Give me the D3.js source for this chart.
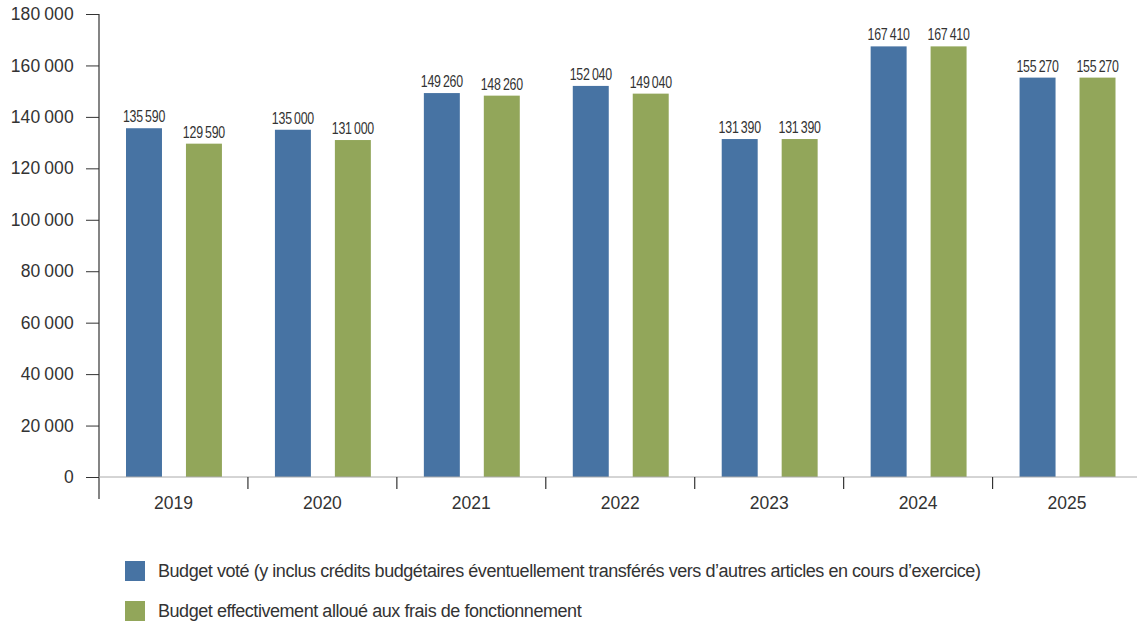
<!DOCTYPE html>
<html><head><meta charset="utf-8">
<script src="https://cdn.jsdelivr.net/npm/d3@7"></script>
<style>
body{margin:0;background:#fff;}
svg{display:block;}
</style></head>
<body>
<svg id="chart" width="1137" height="622"></svg>
<script>
const years = ["2019","2020","2021","2022","2023","2024","2025"];
const budgetVote = [135590,135000,149260,152040,131390,167410,155270];
const budgetAlloue = [129590,131000,148260,149040,131390,167410,155270];
const yTicks = [0,20000,40000,60000,80000,100000,120000,140000,160000,180000];
const seriesNames = ["Budget voté (y inclus crédits budgétaires éventuellement transférés vers d’autres articles en cours d’exercice)","Budget effectivement alloué aux frais de fonctionnement"];
const colors = ["#4773a3","#92a65a"];

const svg = d3.select("#chart");
const x0 = 99, x1 = 1141.5, yTop = 14, yBot = 477;
const fmt = v => d3.format(",")(v).replace(/,/g, "\u2009");

const x = d3.scaleBand().domain(years).range([x0, x1]).paddingInner(0).paddingOuter(0);
const y = d3.scaleLinear().domain([0,180000]).range([yBot, yTop]);
const inner = d3.scaleBand().domain([0,1]).range([27, x.bandwidth()-26]).paddingInner(0.4);

// y axis
const yAxis = svg.append("g").attr("transform",`translate(${x0},0)`)
  .call(d3.axisLeft(y).tickValues(yTicks).tickFormat(fmt).tickSize(13).tickPadding(12));
yAxis.select(".domain").remove();
yAxis.selectAll(".tick line").attr("stroke","#333");
yAxis.selectAll(".tick text").attr("fill","#333").style("font-family","Liberation Sans, Arial, sans-serif").style("font-size","17.5px").style("letter-spacing","0.2px");
svg.append("line").attr("x1",x0).attr("x2",x0).attr("y1",yTop).attr("y2",499).attr("stroke","#333").attr("stroke-width",1.2);

// bars
const data = [budgetVote, budgetAlloue];
data.forEach((vals, si) => {
  svg.append("g").selectAll("rect").data(years).join("rect")
    .attr("x", (d,i) => x(d) + inner(si))
    .attr("width", inner.bandwidth())
    .attr("y", (d,i) => y(vals[i]))
    .attr("height", (d,i) => yBot - y(vals[i]))
    .attr("fill", colors[si]);
  svg.append("g").selectAll("text").data(years).join("text")
    .attr("transform", (d,i) => `translate(${x(d) + inner(si) + inner.bandwidth()/2},${y(vals[i]) - 6}) scale(0.75,1)`)
    .attr("text-anchor","middle")
    .attr("fill","#333")
    .style("font-family","Liberation Sans, Arial, sans-serif")
    .style("font-size","16.5px")
    .style("letter-spacing","-0.3px")
    .text((d,i) => fmt(vals[i]));
});

// x axis baseline
svg.append("line").attr("x1",x0).attr("x2",1137).attr("y1",yBot).attr("y2",yBot).attr("stroke","#aaa").attr("stroke-width",1);
const xAxis = svg.append("g").attr("transform",`translate(0,${yBot})`)
  .call(d3.axisBottom(x).tickSize(0).tickPadding(20));
xAxis.select(".domain").remove();
xAxis.selectAll(".tick text").attr("fill","#333").style("font-family","Liberation Sans, Arial, sans-serif").style("font-size","17.5px");
svg.append("g").selectAll("line").data(years.slice(1)).join("line")
  .attr("x1", d => x(d)).attr("x2", d => x(d))
  .attr("y1", yBot).attr("y2", yBot+12).attr("stroke","#333").attr("stroke-width",1.2);

// legend
const leg = svg.append("g");
seriesNames.forEach((name, i) => {
  const ly = 561 + i*40;
  leg.append("rect").attr("x",125).attr("y",ly).attr("width",20).attr("height",20).attr("fill",colors[i]);
  leg.append("text").attr("x",158).attr("y",ly+16).attr("fill","#333")
    .style("font-family","Liberation Sans, Arial, sans-serif").style("font-size","18px")
    .style("letter-spacing","-0.45px")
    .text(name);
});
</script>
</body></html>
